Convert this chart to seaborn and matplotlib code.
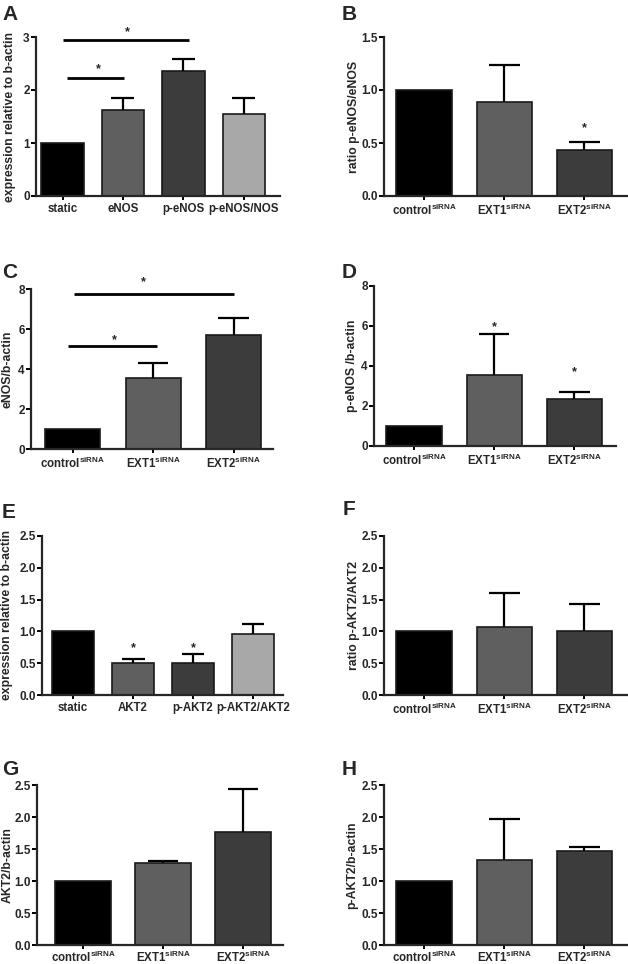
import numpy as np
import matplotlib
matplotlib.use("Agg")
import matplotlib.pyplot as plt
import seaborn as sns

sns.set_style("ticks")
plt.rcParams['font.family'] = ['Liberation Sans', 'DejaVu Sans']
plt.rcParams['font.weight'] = 'bold'
plt.rcParams['mathtext.fontset'] = 'custom'
plt.rcParams['mathtext.rm'] = 'Liberation Sans:bold'
plt.rcParams['mathtext.bf'] = 'Liberation Sans:bold'
plt.rcParams['mathtext.default'] = 'rm'

# ---------------- data ----------------
cats_static_nos = ["static", "eNOS", "p-eNOS", "p-eNOS/NOS"]
cats_static_akt = ["static", "AKT2", "p-AKT2", "p-AKT2/AKT2"]
cats_sirna = ["control", "EXT1", "EXT2"]

a_vals = [1.0, 1.63, 2.36, 1.55]
a_err = [0.0, 0.21, 0.22, 0.29]
b_vals = [1.0, 0.89, 0.43]
b_err = [0.0, 0.35, 0.08]
c_vals = [1.0, 3.54, 5.71]
c_err = [0.0, 0.75, 0.83]
d_vals = [1.0, 3.55, 2.33]
d_err = [0.0, 2.05, 0.37]
e_vals = [1.0, 0.51, 0.51, 0.96]
e_err = [0.0, 0.06, 0.14, 0.16]
f_vals = [1.0, 1.07, 1.0]
f_err = [0.0, 0.53, 0.43]
g_vals = [1.0, 1.28, 1.76]
g_err = [0.0, 0.03, 0.68]
h_vals = [1.0, 1.33, 1.47]
h_err = [0.0, 0.64, 0.06]

# significance brackets: (x_start, x_end, y_line, x_star, y_star)
a_sig = [(0.0, 2.1, 2.95, 1.08, 3.1), (0.07, 1.02, 2.22, 0.6, 2.4)]
c_sig = [(0.02, 2.0, 7.75, 0.88, 8.35), (-0.06, 1.05, 5.16, 0.52, 5.45)]
# single stars: (x, y)
b_stars = [(2, 0.64)]
d_stars = [(1, 5.92), (2, 3.7)]
e_stars = [(1, 0.74), (2, 0.74)]

colors4 = ["#000000", "#5f5f5f", "#3c3c3c", "#a8a8a8"]
edges4 = ["#1a1a1a", "#777777", "#555555", "#bdbdbd"]

W, H = 628, 964
fig = plt.figure(figsize=(W / 100, H / 100), dpi=100)


def add_ax(l, r, t, b):
    return fig.add_axes([l / W, 1 - b / H, (r - l) / W, (b - t) / H])


def panel(box, cats, vals, errs, ylim, yticks, ytl, xlim, ylabel, letter,
          letter_xy, ylab_x, sirna=False, sig=(), stars=(), width=0.7, xpad=2):
    ax = add_ax(*box)
    n = len(cats)
    sns.barplot(x=cats, y=vals, hue=cats, palette=colors4[:n], legend=False,
                width=width, saturation=1, order=cats, ax=ax,
                edgecolor=edges4[:n], linewidth=1.2)
    x = np.arange(n)
    v = np.array(vals)
    e = np.array(errs)
    m = e > 0
    ax.vlines(x[m], v[m], v[m] + e[m], color="black", lw=1.6)
    ax.hlines(v[m] + e[m], x[m] - 0.19, x[m] + 0.19, color="black", lw=1.6)
    for (x0, x1, yl, xs, ys) in sig:
        ax.plot([x0, x1], [yl, yl], color="black", lw=2.0, solid_capstyle="butt")
        ax.text(xs, ys, "*", ha="center", va="center", fontsize=9, fontweight="bold")
    for (xs, ys) in stars:
        ax.text(xs, ys, "*", ha="center", va="center", fontsize=9, fontweight="bold")
    ax.set_xlim(*xlim)
    ax.set_ylim(*ylim)
    ax.set_yticks(yticks)
    ax.set_yticklabels(ytl, fontsize=8.5, fontweight="bold")
    ax.set_xticks(x)
    if sirna:
        labels = [f"{c}$^{{siRNA}}$" for c in cats]
    else:
        labels = cats
    ax.set_xticklabels(labels, fontsize=8.3, fontweight="bold")
    ax.set_xlabel("")
    ax.set_ylabel("")
    sns.despine(ax=ax)
    for s in ("left", "bottom"):
        ax.spines[s].set_linewidth(1.6)
    ax.tick_params(axis="both", width=1.4, length=3.5, pad=1.0, color="black")
    ax.tick_params(axis="x", length=3.0, pad=xpad)
    # y label at fixed pixel x
    yc = (box[2] + box[3]) / 2
    fig.text(ylab_x / W, 1 - yc / H, ylabel, rotation=90, ha="center", va="center",
             fontsize=8.8, fontweight="bold")
    fig.text(letter_xy[0] / W, 1 - letter_xy[1] / H, letter, ha="left", va="top",
             fontsize=15, fontweight="bold")
    return ax


t3 = [0, 1, 2, 3]
t8 = [0, 2, 4, 6, 8]
t25 = [0, 0.5, 1.0, 1.5, 2.0, 2.5]
t15 = [0, 0.5, 1.0, 1.5]
l25 = ["0.0", "0.5", "1.0", "1.5", "2.0", "2.5"]

panel((36, 280, 37, 196), cats_static_nos, a_vals, a_err, (0, 3), t3,
      ["0", "1", "2", "3"], (-0.44, 3.6), "expression relative to b-actin", "A",
      (2, 5), 10, sig=a_sig)
panel((384, 627, 37, 196), cats_sirna, b_vals, b_err, (0, 1.5), t15,
      ["0.0", "0.5", "1.0", "1.5"], (-0.5, 2.53), "ratio p-eNOS/eNOS", "B",
      (342, 5), 354, sirna=True, stars=b_stars, width=0.69)
panel((31, 273, 289, 449), cats_sirna, c_vals, c_err, (0, 8), t8,
      ["0", "2", "4", "6", "8"], (-0.52, 2.49), "eNOS/b-actin", "C",
      (2, 263), 8, sirna=True, sig=c_sig, width=0.68)
panel((374, 616, 286, 446), cats_sirna, d_vals, d_err, (0, 8), t8,
      ["0", "2", "4", "6", "8"], (-0.5, 2.52), "p-eNOS /b-actin", "D",
      (342, 263), 352, sirna=True, stars=d_stars, width=0.69)
panel((42, 283, 536, 695), cats_static_akt, e_vals, e_err, (0, 2.5), t25,
      l25, (-0.52, 3.5), "expression relative to b-actin", "E",
      (2, 503), 7, stars=e_stars)
panel((384, 627, 536, 695), cats_sirna, f_vals, f_err, (0, 2.5), t25,
      l25, (-0.5, 2.53), "ratio p-AKT2/AKT2", "F",
      (343, 500), 354, sirna=True, width=0.69)
panel((37, 283, 785, 945), cats_sirna, g_vals, g_err, (0, 2.5), t25,
      l25, (-0.575, 2.5), "AKT2/b-actin", "G",
      (2, 760), 8, sirna=True, width=0.69, xpad=0.5)
panel((384, 627, 785, 945), cats_sirna, h_vals, h_err, (0, 2.5), t25,
      l25, (-0.5, 2.53), "p-AKT2/b-actin", "H",
      (342, 760), 352, sirna=True, width=0.69, xpad=0.5)

fig.savefig("out.png", dpi=100)
